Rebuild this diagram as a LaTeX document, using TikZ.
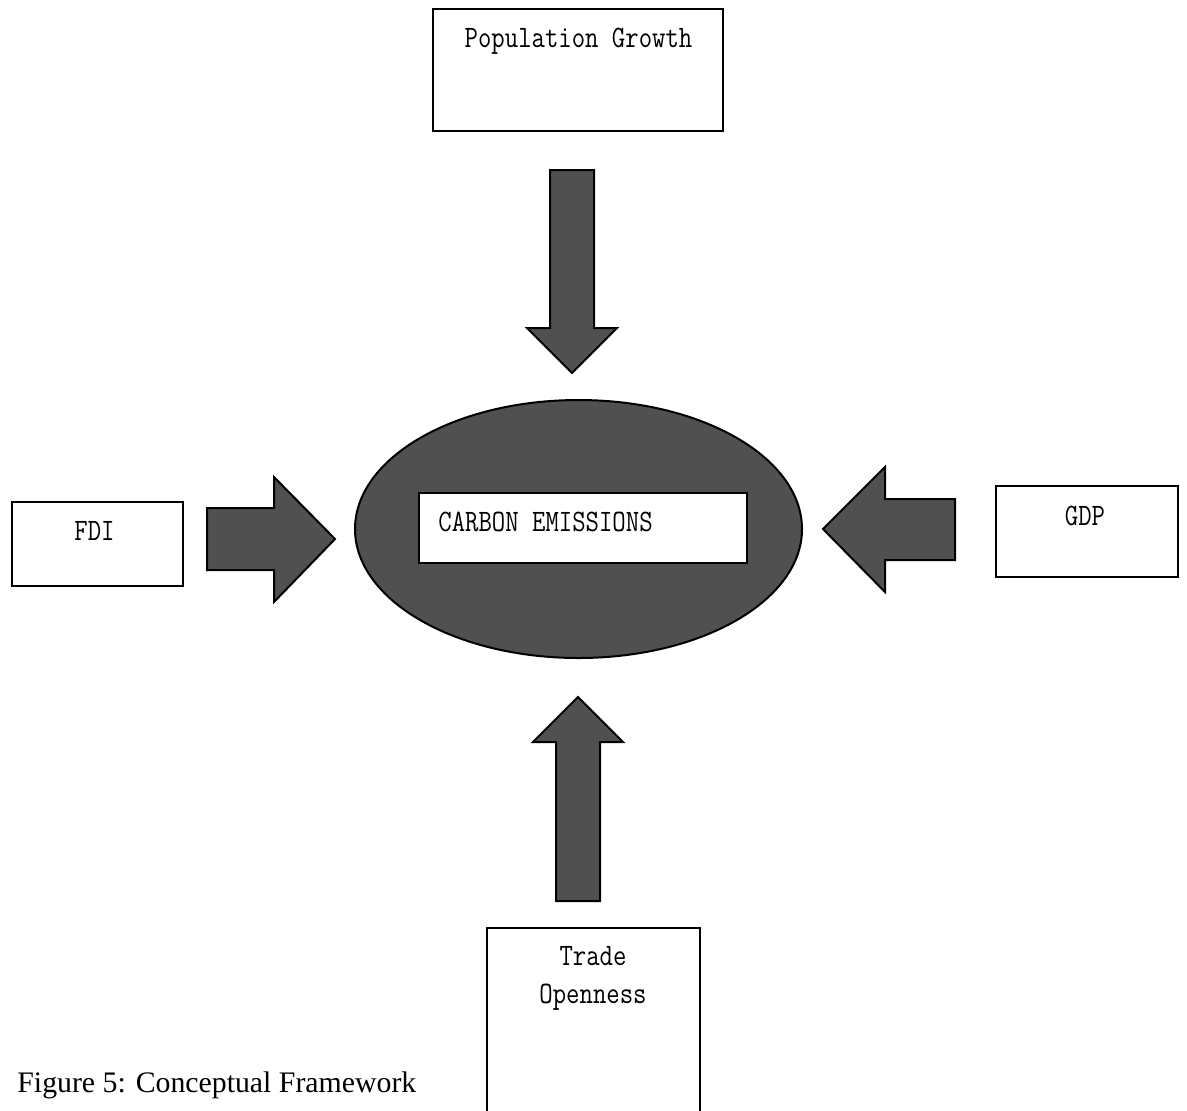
\documentclass[tikz,border=0pt]{standalone}
\usepackage{fontspec}
\usepackage{graphicx}
\setmainfont{Liberation Serif}
\usetikzlibrary{shapes.geometric}
\definecolor{fillgray}{RGB}{80,80,80}
\newcommand\talltext[1]{\scalebox{1}[1.2]{#1}}
\tikzset{
  labelbox/.style={draw=black, line width=0.75pt, fill=white, rectangle, inner sep=0pt},
  blockarrow/.style={draw=black, line width=1pt, fill=fillgray, line join=miter},
  lbl/.style={font=\fontsize{13pt}{19pt}\ttfamily, inner sep=0pt},
  caption/.style={font=\fontsize{14.9pt}{18pt}\selectfont, inner sep=0pt},
}
\begin{document}
\begin{tikzpicture}[x=0.5pt,y=-0.5pt]
\clip (0,0) rectangle (1187,1110);
\fill[white] (0,0) rectangle (1187,1110);

% boxes
\node[labelbox, minimum width=145pt, minimum height=61pt] (pop) at (578,70) {};
\node[labelbox, minimum width=85.5pt, minimum height=42pt] (fdi) at (97.5,544) {};
\node[labelbox, minimum width=91pt, minimum height=45.5pt] (gdp) at (1087,531.5) {};
\node[labelbox, minimum width=106.5pt, minimum height=101pt] (trade) at (593.5,1029) {};

% central ellipse
\node[ellipse, draw=black, line width=1pt, fill=fillgray, minimum width=223.5pt, minimum height=129pt, inner sep=0pt] (ce) at (578.5,529) {};
\node[labelbox, line width=0.6pt, minimum width=164pt, minimum height=35pt] (cebox) at (583,528) {};

% texts
\node[lbl, anchor=base] (poptxt) at (578.5,47) {\talltext{Population Growth}};
\node[lbl, anchor=base west] (cetxt) at (438,531) {\talltext{CARBON EMISSIONS}};
\node[lbl, anchor=base] (fditxt) at (94.5,540) {\talltext{FDI}};
\node[lbl, anchor=base] (gdptxt) at (1085,525) {\talltext{GDP}};
\node[lbl, anchor=base] (tradetxt1) at (593,965) {\talltext{Trade}};
\node[lbl, anchor=base] (tradetxt2) at (593,1003) {\talltext{Openness}};
\node[caption, anchor=base west] (cap) at (17,1092) {Figure 5: Conceptual Framework};

% block arrows
% down (Population Growth -> centre)
\draw[blockarrow] (550,170) -- (594,170) -- (594,328) -- (617,328) -- (572,373) -- (527,328) -- (550,328) -- cycle;
% right (FDI -> centre)
\draw[blockarrow] (207,508) -- (274,508) -- (274,477) -- (335,539) -- (274,602) -- (274,570) -- (207,570) -- cycle;
% left (GDP -> centre)
\draw[blockarrow] (955,499) -- (885,499) -- (885,467) -- (823,529) -- (885,592) -- (885,560) -- (955,560) -- cycle;
% up (Trade Openness -> centre)
\draw[blockarrow] (556,901) -- (556,742) -- (533,742) -- (578,697) -- (623,742) -- (600,742) -- (600,901) -- cycle;
\end{tikzpicture}
\end{document}
